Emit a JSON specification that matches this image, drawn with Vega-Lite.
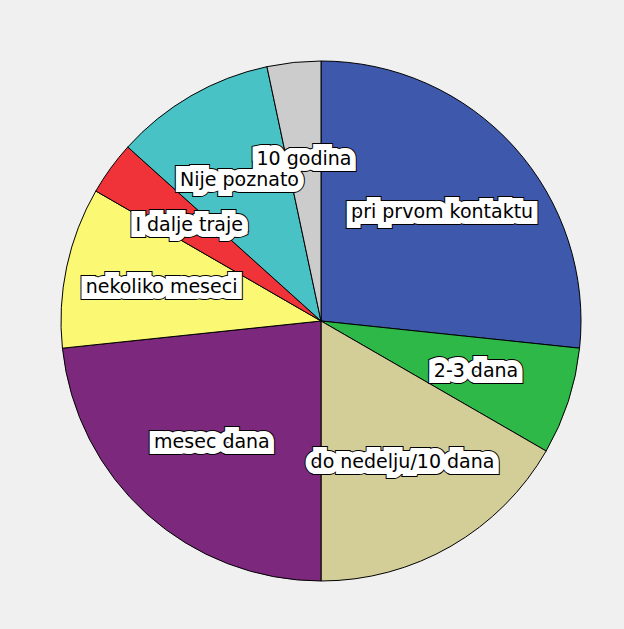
{
  "$schema": "https://vega.github.io/schema/vega-lite/v6.json",
  "width": 606,
  "height": 616,
  "autosize": {"type": "none"},
  "padding": {"left": 18, "top": 13, "right": 0, "bottom": 0},
  "background": "#f0f0f0",
  "config": {"view": {"stroke": null}},
  "data": {
    "values": [
      {"n": 1, "label": "pri prvom kontaktu", "count": 8},
      {"n": 2, "label": "2-3 dana", "count": 2},
      {"n": 3, "label": "do nedelju/10 dana", "count": 5},
      {"n": 4, "label": "mesec dana", "count": 7},
      {"n": 5, "label": "nekoliko meseci", "count": 3},
      {"n": 6, "label": "I dalje traje", "count": 1},
      {"n": 7, "label": "Nije poznato", "count": 3},
      {"n": 8, "label": "10 godina", "count": 1}
    ]
  },
  "encoding": {
    "theta": {"field": "count", "type": "quantitative", "stack": true},
    "order": {"field": "n", "type": "quantitative"},
    "detail": {"field": "label", "type": "nominal"}
  },
  "layer": [
    {
      "mark": {"type": "arc", "radius": 260, "stroke": "#000000", "strokeWidth": 1},
      "encoding": {
        "color": {
          "field": "label",
          "type": "nominal",
          "legend": null,
          "scale": {
            "domain": ["pri prvom kontaktu", "2-3 dana", "do nedelju/10 dana", "mesec dana", "nekoliko meseci", "I dalje traje", "Nije poznato", "10 godina"],
            "range": ["#3e58ac", "#2eb848", "#d3ce97", "#7c287d", "#fbf873", "#ef3338", "#48c2c5", "#cccccc"]
          }
        }
      }
    },
    {
      "mark": {"type": "text", "radius": 163, "font": "DejaVu Sans", "fontSize": 19, "fill": "#000000", "stroke": "#000000", "strokeWidth": 14, "strokeJoin": "miter", "strokeMiterLimit": 2},
      "encoding": {"text": {"field": "label"}}
    },
    {
      "mark": {"type": "text", "radius": 163, "font": "DejaVu Sans", "fontSize": 19, "fill": "#ffffff", "stroke": "#ffffff", "strokeWidth": 12, "strokeJoin": "miter", "strokeMiterLimit": 2},
      "encoding": {"text": {"field": "label"}}
    },
    {
      "mark": {"type": "text", "radius": 163, "font": "DejaVu Sans", "fontSize": 19, "fill": "#000000"},
      "encoding": {"text": {"field": "label"}}
    }
  ]
}
